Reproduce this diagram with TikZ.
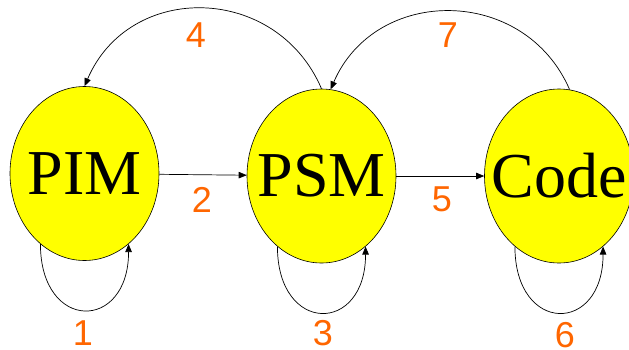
\documentclass[tikz,border=0pt]{standalone}
\usepackage{fontspec}
\setmainfont{Liberation Serif}
\newfontfamily\numfont{Liberation Sans}
\usetikzlibrary{arrows.meta,shapes.geometric}
\definecolor{stateyellow}{RGB}{255,255,0}
\definecolor{labelorange}{RGB}{255,102,0}
\tikzset{
  state/.style={ellipse, draw=black, line width=0.6pt, fill=stateyellow,
    minimum width=149pt, minimum height=174pt, inner sep=0pt,
    label={[font=\fontsize{64}{64}\selectfont, inner sep=0pt]center:#1}},
  edge/.style={line width=0.7pt, -{Triangle[length=8pt,width=6.5pt]}},
  num/.style={text=labelorange, inner sep=0pt, font=\numfont\fontsize{36}{36}\selectfont}
}
\begin{document}
\begin{tikzpicture}[x=1pt,y=-1pt]
  \useasboundingbox (0,0) rectangle (629,349);
  \clip (0,0) rectangle (629,349);

  % states (the name is set as a centred label so it does not widen the ellipse)
  \node[state=PIM]  (pim)  at (84.5,173.5) {};
  \node[state=PSM]  (psm)  at (321.5,176) {};
  \node[state=Code] (code) at (559,176) {};

  % forward transitions
  \draw[edge] (pim) -- (psm);
  \draw[edge] (psm) -- (code);

  % self loops
  \draw[edge] (pim.238) .. controls +(0,88) and +(0,88) .. (pim.302);
  \draw[edge] (psm.238) .. controls +(0,88) and +(0,88) .. (psm.302);
  \draw[edge] (code.238) .. controls +(0,88) and +(0,88) .. (code.302);

  % backward transitions
  \draw[edge] (psm.north) .. controls +(-45,-105) and +(45,-105) .. (pim.north);
  \draw[edge] (code.83) .. controls +(-45,-104) and +(45,-104) .. (psm.84);

  % transition numbers
  \node[num] (n1) at (83,333) {1};
  \node[num] (n2) at (202,200) {2};
  \node[num] (n3) at (323,333) {3};
  \node[num] (n4) at (196,35) {4};
  \node[num] (n5) at (442,199) {5};
  \node[num] (n6) at (565,335) {6};
  \node[num] (n7) at (448,35) {7};
\end{tikzpicture}
\end{document}
